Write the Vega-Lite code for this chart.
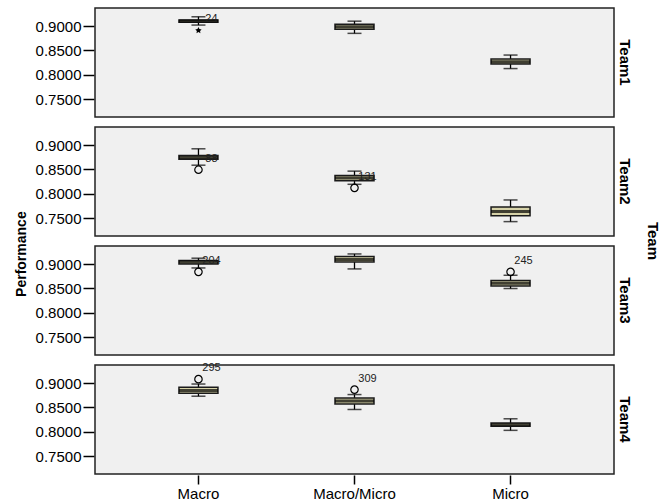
{
  "$schema": "https://vega.github.io/schema/vega-lite/v6.json",
  "padding": {"left": 15, "top": 7, "right": 5, "bottom": 5},
  "background": "white",
  "title": {"text": "Performance", "orient": "left", "anchor": "middle", "fontSize": 14, "fontWeight": "bold", "color": "black", "font": "Liberation Sans", "offset": 6},
  "data": {"values": [
    {"kind": "box", "team": "Team1", "method": "Macro", "lo": 0.902, "q1": 0.908, "med": 0.9105, "q3": 0.9125, "hi": 0.919},
    {"kind": "box", "team": "Team1", "method": "Macro/Micro", "lo": 0.885, "q1": 0.8934, "med": 0.8986, "q3": 0.9035, "hi": 0.910},
    {"kind": "box", "team": "Team1", "method": "Micro", "lo": 0.8128, "q1": 0.8223, "med": 0.827, "q3": 0.8324, "hi": 0.8405},
    {"kind": "box", "team": "Team2", "method": "Macro", "lo": 0.8587, "q1": 0.8709, "med": 0.8743, "q3": 0.8786, "hi": 0.8923},
    {"kind": "box", "team": "Team2", "method": "Macro/Micro", "lo": 0.8195, "q1": 0.8266, "med": 0.8323, "q3": 0.8373, "hi": 0.8465},
    {"kind": "box", "team": "Team2", "method": "Micro", "lo": 0.743, "q1": 0.7552, "med": 0.7638, "q3": 0.773, "hi": 0.7874},
    {"kind": "box", "team": "Team3", "method": "Macro", "lo": 0.892, "q1": 0.900, "med": 0.904, "q3": 0.9072, "hi": 0.912},
    {"kind": "box", "team": "Team3", "method": "Macro/Micro", "lo": 0.89, "q1": 0.904, "med": 0.9095, "q3": 0.9153, "hi": 0.9207},
    {"kind": "box", "team": "Team3", "method": "Micro", "lo": 0.8498, "q1": 0.855, "med": 0.8605, "q3": 0.8665, "hi": 0.877},
    {"kind": "box", "team": "Team4", "method": "Macro", "lo": 0.873, "q1": 0.879, "med": 0.8845, "q3": 0.8912, "hi": 0.898},
    {"kind": "box", "team": "Team4", "method": "Macro/Micro", "lo": 0.8458, "q1": 0.8572, "med": 0.863, "q3": 0.8695, "hi": 0.8764},
    {"kind": "box", "team": "Team4", "method": "Micro", "lo": 0.803, "q1": 0.8112, "med": 0.8145, "q3": 0.8179, "hi": 0.8267},
    {"kind": "star", "team": "Team1", "method": "Macro", "value": 0.891, "label": "24"},
    {"kind": "circle", "team": "Team2", "method": "Macro", "value": 0.8495, "label": "88"},
    {"kind": "circle", "team": "Team2", "method": "Macro/Micro", "value": 0.8122, "label": "131"},
    {"kind": "circle", "team": "Team3", "method": "Macro", "value": 0.884, "label": "204"},
    {"kind": "circle", "team": "Team3", "method": "Micro", "value": 0.884, "label": "245"},
    {"kind": "circle", "team": "Team4", "method": "Macro", "value": 0.908, "label": "295"},
    {"kind": "circle", "team": "Team4", "method": "Macro/Micro", "value": 0.8866, "label": "309"}
  ]},
  "facet": {
    "row": {
      "field": "team", "type": "nominal", "title": "Team",
      "header": {
        "labelOrient": "right", "labelAngle": 90, "labelFontSize": 15, "labelFontWeight": "bold",
        "labelPadding": 2, "labelColor": "black", "labelFont": "Liberation Sans",
        "titleOrient": "right", "titleAngle": 90, "titleFontSize": 15, "titleFontWeight": "bold",
        "titlePadding": 3, "titleColor": "black", "titleFont": "Liberation Sans"
      }
    }
  },
  "spacing": 5,
  "spec": {
    "width": 519,
    "height": 109,
    "encoding": {
      "x": {
        "field": "method", "type": "nominal",
        "scale": {"domain": ["Macro", "Macro/Micro", "Micro"], "paddingInner": 0, "paddingOuter": 0.163},
        "axis": {"title": null, "labelAngle": 0, "domain": false, "tickSize": 9, "tickWidth": 1.5, "labelFontSize": 15, "labelPadding": 2}
      }
    },
    "layer": [
      {
        "transform": [{"filter": "datum.kind === 'box'"}],
        "mark": {"type": "rule", "color": "black", "strokeWidth": 1.3},
        "encoding": {
          "y": {"field": "lo", "type": "quantitative", "title": null,
                "scale": {"domain": [0.7135, 0.937], "nice": false, "zero": false},
                "axis": {"values": [0.75, 0.8, 0.85, 0.9], "tickCount": 10, "format": ".4f", "title": null}},
          "y2": {"field": "hi"}
        }
      },
      {
        "transform": [{"filter": "datum.kind === 'box'"}],
        "mark": {"type": "tick", "color": "black", "size": 14, "thickness": 1.5},
        "encoding": {"y": {"field": "lo", "type": "quantitative", "title": null}}
      },
      {
        "transform": [{"filter": "datum.kind === 'box'"}],
        "mark": {"type": "tick", "color": "black", "size": 14, "thickness": 1.5},
        "encoding": {"y": {"field": "hi", "type": "quantitative", "title": null}}
      },
      {
        "transform": [{"filter": "datum.kind === 'box'"}],
        "mark": {"type": "bar", "fill": "#D6D2A8", "stroke": "#1a1a1a", "strokeWidth": 1.5, "size": 39},
        "encoding": {
          "y": {"field": "q1", "type": "quantitative", "title": null},
          "y2": {"field": "q3"}
        }
      },
      {
        "transform": [{"filter": "datum.kind === 'box'"}],
        "mark": {"type": "tick", "color": "black", "size": 39, "thickness": 3},
        "encoding": {"y": {"field": "med", "type": "quantitative", "title": null}}
      },
      {
        "transform": [{"filter": "datum.kind === 'circle'"}],
        "mark": {"type": "point", "shape": "circle", "filled": false, "color": "black", "strokeWidth": 1.2, "size": 55, "opacity": 1},
        "encoding": {"y": {"field": "value", "type": "quantitative", "title": null}}
      },
      {
        "transform": [{"filter": "datum.kind === 'star'"}],
        "mark": {"type": "point", "shape": "M0,-1L0.29,-0.4L0.95,-0.31L0.47,0.15L0.59,0.81L0,0.5L-0.59,0.81L-0.47,0.15L-0.95,-0.31L-0.29,-0.4Z", "filled": true, "color": "black", "size": 45, "opacity": 1},
        "encoding": {"y": {"field": "value", "type": "quantitative", "title": null}}
      },
      {
        "transform": [{"filter": "datum.kind !== 'box'"}],
        "mark": {"type": "text", "dx": 13, "dy": -11, "fontSize": 11, "color": "#222", "font": "Liberation Sans"},
        "encoding": {
          "y": {"field": "value", "type": "quantitative", "title": null},
          "text": {"field": "label"}
        }
      }
    ]
  },
  "config": {
    "font": "Liberation Sans",
    "view": {"fill": "#F0F0F0", "stroke": "#222", "strokeWidth": 1.5},
    "axis": {"grid": false, "labelColor": "black", "tickColor": "black", "titleColor": "black", "labelFont": "Liberation Sans", "titleFont": "Liberation Sans"},
    "axisY": {
      "domain": false, "tickSize": 11, "tickWidth": 1.5, "labelFontSize": 15, "labelPadding": 2
    }
  }
}
